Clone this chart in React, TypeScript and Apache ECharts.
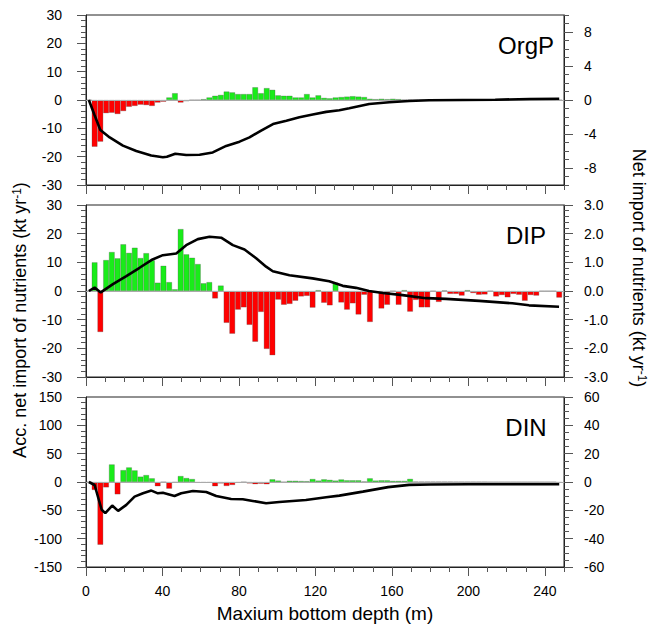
import React, { useEffect, useRef } from 'react';
import * as echarts from 'echarts';

// Bin centres of maximum bottom depth (m)
const depth = [
  1.5, 4.5, 7.5, 10.5, 13.5, 16.5, 19.5, 22.5, 25.5, 28.5,
  31.5, 34.5, 37.5, 40.5, 43.5, 46.5, 49.5, 52.5, 55.5, 58.5,
  61.5, 64.5, 67.5, 70.5, 73.5, 76.5, 79.5, 82.5, 85.5, 88.5,
  91.5, 94.5, 97.5, 100.5, 103.5, 106.5, 109.5, 112.5, 115.5, 118.5,
  121.5, 124.5, 127.5, 130.5, 133.5, 136.5, 139.5, 142.5, 145.5, 148.5,
  151.5, 154.5, 157.5, 160.5, 163.5, 166.5, 169.5, 172.5, 175.5, 178.5,
  181.5, 184.5, 187.5, 190.5, 193.5, 196.5, 199.5, 202.5, 205.5, 208.5,
  211.5, 214.5, 217.5, 220.5, 223.5, 226.5, 229.5, 232.5, 235.5, 238.5,
  241.5, 244.5, 247.5,
];

// Net import per bin (right axis, kt/yr)
const orgpNet = [
  0, -5.5, -4.9, -1.55, -1.5, -1.65, -1.3, -0.8, -0.7, -0.55,
  -0.6, -0.7, -0.3, -0.2, 0.3, 0.8, -0.3, -0.15, 0, 0,
  0.1, 0.3, 0.5, 0.6, 1.0, 0.9, 0.7, 0.7, 0.7, 1.5,
  0.8, 1.4, 1.2, 0.55, 0.5, 0.5, 0.3, 0.3, 0.7, 0.3,
  0.55, 0.25, 0.2, 0.3, 0.35, 0.4, 0.45, 0.4, 0.35, 0.15,
  0.1, 0.15, 0.1, 0.15, 0.1, 0.05, 0.05, 0.03, 0.03, 0.02,
  0.02, 0.02, 0, 0, 0, 0, 0, 0, 0, 0,
  0, 0, 0, 0, 0, 0, 0, 0, 0, 0,
  0, 0, 0,
];
const dipNet = [
  0, 1.0, -1.43, 1.08, 1.36, 1.14, 1.63, 1.33, 1.51, 1.15,
  1.32, 1.07, 0.29, 0.88, 0.31, 0.06, 2.16, 1.28, 1.16, 0.94,
  0.27, 0.31, -0.26, 0.19, -1.11, -1.49, -0.65, -0.57, -1.18, -1.77,
  -0.73, -2.02, -2.24, -0.3, -0.48, -0.45, -0.34, -0.19, -0.17, -0.58,
  0.03, -0.41, -0.5, 0.29, -0.4, -0.65, -0.43, -0.82, -0.13, -1.08,
  -0.06, -0.61, -0.48, 0, -0.48, 0.03, -0.72, -0.31, -0.57, -0.57,
  0, -0.38, 0.02, -0.1, -0.1, -0.16, 0.03, -0.07, -0.13, -0.12,
  0, -0.19, -0.14, -0.22, -0.1, -0.13, -0.34, -0.14, -0.16, 0,
  0, 0, -0.23,
];
const dinNet = [
  0, -5.6, -44.3, -3.8, 12.4, -8.7, 8.4, 10.3, 8.2, 3.8,
  4.9, 2.6, -3.0, 0, -4.7, -0.3, 4.2, 2.8, 2.1, -0.5,
  -0.5, -0.5, -3.0, -1.0, -2.8, -2.1, -0.5, 0, -1.0, -1.5,
  -1.2, -1.6, 1.9, 1.0, 0, 0.9, 0.9, 0.7, 0.6, 2.1,
  1.0, 1.9, 1.5, 1.0, 1.8, 1.2, 1.2, 1.2, 0.4, 2.6,
  1.0, 1.2, 1.2, 0.8, 0.8, 0.8, 2.2, 0.3, 0.2, 0.2,
  0.2, 0.2, 0.2, 0.2, 0.1, 0.1, 0.1, 0.1, 0.1, 0.1,
  0, 0, 0, 0, 0, 0, 0, 0, 0, 0,
  0, 0, -0.5,
];

// Accumulated net import (left axis)
const orgpAccDepth = [1.5, 4.5, 7.5, 12.4, 19.3, 26.3, 34.1, 40.2, 42.3, 46.7, 52.4, 59.4, 66.3, 73.3, 80.3, 85.5, 91.6, 97.8, 104.8, 111.6, 118.6, 125.6, 132.5, 137.7, 148.1, 158.6, 169, 179.5, 197, 214, 232, 247.5];
const orgpAcc = [0, -5.4, -10.6, -13.2, -16.1, -18.0, -19.6, -20.2, -20.0, -18.95, -19.4, -19.3, -18.5, -16.2, -14.7, -13.2, -10.8, -8.5, -7.3, -6.1, -5.1, -4.2, -3.6, -2.9, -1.4, -0.8, -0.35, -0.1, 0, 0.1, 0.35, 0.45];

const dipAccDepth = [1.5, 4.5, 7.7, 14.1, 21.1, 28, 34.2, 40.2, 47.2, 52.4, 58.5, 64.6, 70.7, 76.8, 82.9, 89, 94.2, 97.7, 106.4, 118.5, 127.2, 134.3, 141.2, 148, 155.2, 165.6, 177.8, 188.3, 205.6, 223, 231.7, 247.4];
const dipAcc = [0, 1.2, -0.5, 2.4, 5.2, 8.1, 10.8, 12.5, 13.1, 16.0, 18.1, 18.9, 18.6, 16.0, 14.5, 11.4, 8.5, 6.9, 5.5, 4.4, 3.4, 1.8, 1.1, 0, -0.7, -1.45, -2.5, -2.75, -3.45, -4.3, -5.0, -5.5];

const dinAccDepth = [1.5, 4.5, 8.2, 10.1, 13.7, 16.8, 21.1, 25.4, 29.8, 34.2, 37.6, 40.2, 46.3, 49.8, 55.9, 62.9, 68.1, 75.9, 82, 87.2, 94.2, 101.1, 115, 125.6, 132.5, 144.8, 158, 169, 180, 200, 247.5];
const dinAcc = [0, -5.3, -49, -55, -41.6, -51, -40.4, -25.8, -19.9, -15.2, -20, -19, -24.6, -20, -15.8, -17.6, -24.6, -29.9, -30.5, -33.4, -37.5, -35.2, -31.7, -27, -24, -17, -9, -5, -4.5, -4, -4];

const xTickLabels = [0, 40, 80, 120, 160, 200, 240];
const orgpRightTicks = [-8, -4, 0, 4, 8];
const panelNames = ['OrgP', 'DIP', 'DIN'];
const xTitle = 'Maxium bottom depth (m)';
const leftTitle = 'Acc. net import of nutrients (kt yr';
const rightTitle = 'Net import of nutrients (kt yr';

const FONT = '"Liberation Sans", Arial, Helvetica, sans-serif';
const GREEN = '#19ec19';
const RED = '#ff0000';
const AXIS_COLOR = '#222';
const TICK_COLOR = '#555';

export default function App() {
  const ref = useRef<HTMLDivElement>(null);

  useEffect(() => {
    document.body.style.margin = '0';
    const chart = echarts.init(ref.current!, null, { renderer: 'svg' });

    const grids = [
      { left: 86, top: 15, width: 478, height: 170 },
      { left: 86, top: 205, width: 478, height: 172 },
      { left: 86, top: 397, width: 478, height: 170 },
    ];

    const labelStyle = { fontSize: 14, color: '#000', fontFamily: FONT };
    const lineStyle = { color: AXIS_COLOR, width: 1 };
    const tickLine = { color: TICK_COLOR, width: 1 };

    const xAxis: any[] = [];
    grids.forEach((_, g) => {
      xAxis.push({
        type: 'value', gridIndex: g, min: 0, max: 250, position: 'bottom',
        axisLine: { show: true, onZero: false, lineStyle },
        axisTick: { show: true, inside: false, length: 9, customValues: xTickLabels, lineStyle: tickLine },
        axisLabel: { show: g === 2, customValues: xTickLabels, margin: 17, ...labelStyle },
        splitLine: { show: false },
      });
      xAxis.push({
        type: 'value', gridIndex: g, min: 0, max: 250, interval: 10, position: 'bottom',
        axisLine: { show: false, onZero: false },
        axisTick: { show: true, inside: false, length: 5, lineStyle: tickLine },
        axisLabel: { show: false },
        splitLine: { show: false },
      });
    });

    const leftAxis = (g: number, min: number, max: number, interval: number, split: number) => ({
      type: 'value', gridIndex: g, position: 'left', min, max, interval,
      axisLine: { show: true, onZero: false, lineStyle },
      axisTick: { show: true, inside: false, length: 9, lineStyle: tickLine },
      minorTick: { show: true, splitNumber: split, length: 5, lineStyle: tickLine },
      axisLabel: { margin: 24, ...labelStyle },
      splitLine: { show: false },
    });

    const yAxis: any[] = [
      leftAxis(0, -30, 30, 10, 5),
      {
        type: 'value', gridIndex: 0, position: 'right', min: -10, max: 10,
        axisLine: { show: true, onZero: false, lineStyle },
        axisTick: { show: true, inside: false, length: 9, customValues: orgpRightTicks, lineStyle: tickLine },
        axisLabel: { customValues: orgpRightTicks, margin: 20, ...labelStyle },
        splitLine: { show: false },
      },
      {
        type: 'value', gridIndex: 0, position: 'right', min: -10, max: 10, interval: 1,
        axisLine: { show: false, onZero: false },
        axisTick: { show: true, inside: false, length: 5, lineStyle: tickLine },
        axisLabel: { show: false },
        splitLine: { show: false },
      },
      leftAxis(1, -30, 30, 10, 5),
      {
        type: 'value', gridIndex: 1, position: 'right', min: -3, max: 3, interval: 1,
        axisLine: { show: true, onZero: false, lineStyle },
        axisTick: { show: true, inside: false, length: 9, lineStyle: tickLine },
        minorTick: { show: true, splitNumber: 5, length: 5, lineStyle: tickLine },
        axisLabel: { margin: 20, formatter: (v: number) => v.toFixed(1), ...labelStyle },
        splitLine: { show: false },
      },
      leftAxis(2, -150, 150, 50, 5),
      {
        type: 'value', gridIndex: 2, position: 'right', min: -60, max: 60, interval: 20,
        axisLine: { show: true, onZero: false, lineStyle },
        axisTick: { show: true, inside: false, length: 9, lineStyle: tickLine },
        minorTick: { show: true, splitNumber: 4, length: 5, lineStyle: tickLine },
        axisLabel: { margin: 20, ...labelStyle },
        splitLine: { show: false },
      },
    ];

    const barSeries = (vals: number[], xi: number, yi: number) => ({
      type: 'bar', xAxisIndex: xi, yAxisIndex: yi,
      data: depth.map((d, i) => [d, vals[i]]),
      barWidth: 5.7,
      itemStyle: {
        color: (p: any) => (p.value[1] >= 0 ? GREEN : RED),
        borderColor: 'rgba(70,70,70,0.55)', borderWidth: 0.5,
      },
      markLine: {
        silent: true, symbol: 'none', label: { show: false },
        lineStyle: { color: '#aaa', width: 1, type: 'solid' },
        data: [{ yAxis: 0 }],
      },
      z: 2,
    });

    const lineSeries = (xs: number[], ys: number[], xi: number, yi: number) => ({
      type: 'line', xAxisIndex: xi, yAxisIndex: yi,
      data: xs.map((x, i) => [x, ys[i]]),
      showSymbol: false, symbol: 'none',
      lineStyle: { color: '#000', width: 2.6 },
      z: 5,
    });

    const titleRich = {
      t: { fontSize: 18, fontFamily: FONT, fill: '#000' },
      s: { fontSize: 12, fontFamily: FONT, fill: '#000', verticalAlign: 'top' },
    };

    const graphic: any[] = [
      {
        type: 'text', x: 325, y: 613,
        style: { text: xTitle, fontSize: 19, fontFamily: FONT, fill: '#000', align: 'center', verticalAlign: 'middle', textAlign: 'center', textVerticalAlign: 'middle' },
      },
      {
        type: 'text', x: 20, y: 320, rotation: Math.PI / 2,
        style: { text: `{t|${leftTitle}}{s|-1}{t|)}`, rich: titleRich, align: 'center', verticalAlign: 'middle', textAlign: 'center', textVerticalAlign: 'middle' },
      },
      {
        type: 'text', x: 639, y: 268, rotation: -Math.PI / 2,
        style: { text: `{t|${rightTitle}}{s|-1}{t|)}`, rich: titleRich, align: 'center', verticalAlign: 'middle', textAlign: 'center', textVerticalAlign: 'middle' },
      },
      ...panelNames.map((name, g) => ({
        type: 'text', x: 526, y: grids[g].top + 30,
        style: { text: name, fontSize: 24, fontFamily: FONT, fill: '#000', align: 'center', verticalAlign: 'middle', textAlign: 'center', textVerticalAlign: 'middle' },
      })),
    ];

    chart.setOption({
      animation: false,
      backgroundColor: '#fff',
      grid: grids.map((g) => ({ ...g, show: true, borderColor: AXIS_COLOR, borderWidth: 1, backgroundColor: 'transparent' })),
      xAxis,
      yAxis,
      series: [
        barSeries(orgpNet, 0, 1),
        lineSeries(orgpAccDepth, orgpAcc, 0, 0),
        barSeries(dipNet, 2, 4),
        lineSeries(dipAccDepth, dipAcc, 2, 3),
        barSeries(dinNet, 4, 6),
        lineSeries(dinAccDepth, dinAcc, 4, 5),
      ],
      graphic,
    });

    return () => chart.dispose();
  }, []);

  return <div ref={ref} style={{ width: 650, height: 629 }} />;
}
